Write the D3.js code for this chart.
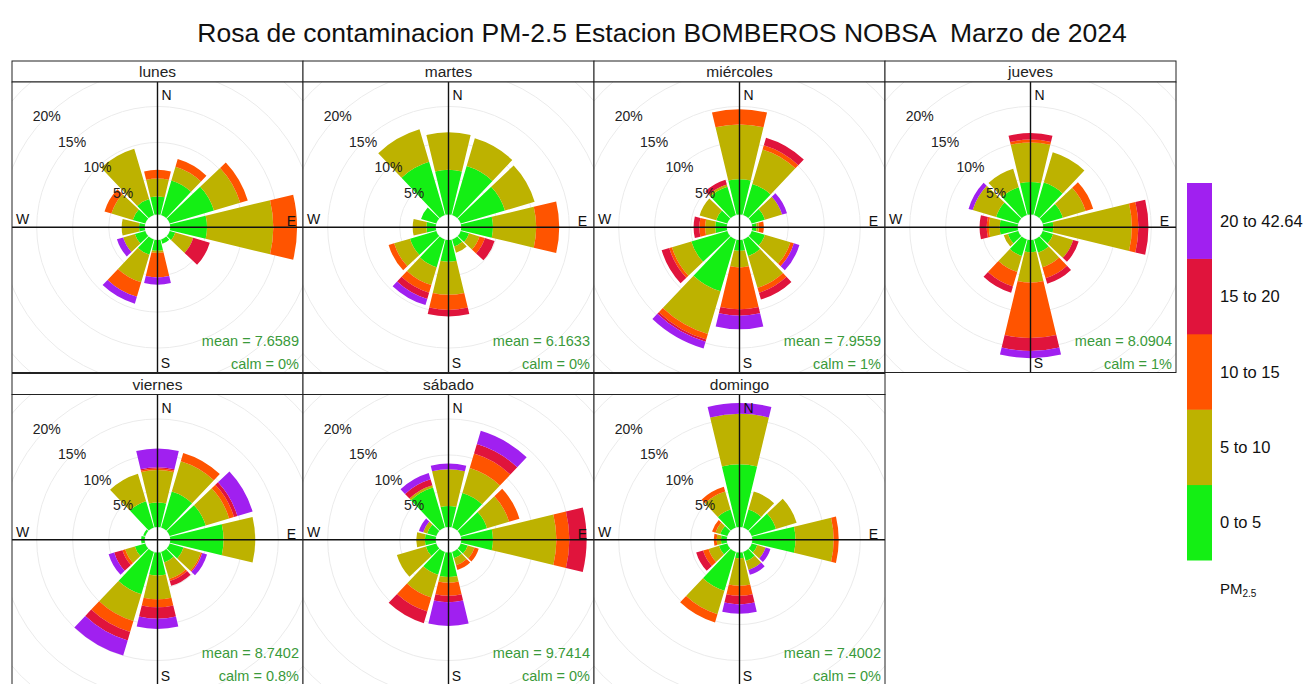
<!DOCTYPE html>
<html>
<head>
<meta charset="utf-8">
<script src="https://cdn.jsdelivr.net/npm/d3@7"></script>
<style>
  body { margin: 0; background: #fff; }
  svg { display: block; font-family: "Liberation Sans", Arial, sans-serif; }
</style>
</head>
<body>
<svg id="chart" width="1313" height="684"></svg>
<script>
// ---- data -------------------------------------------------------------
const title = "Rosa de contaminacion PM-2.5 Estacion BOMBEROS NOBSA  Marzo de 2024";
const days = ["lunes", "martes", "miércoles", "jueves", "viernes", "sábado", "domingo"];
const directions = [0, 30, 60, 90, 120, 150, 180, 210, 240, 270, 300, 330];
const bins = ["0 to 5", "5 to 10", "10 to 15", "15 to 20", "20 to 42.64"];
const binColors = ["#14ef14", "#bdb200", "#ff5400", "#e0143c", "#a020f0"];
const gridTicks = [5, 10, 15, 20];
const means = ["7.6589", "6.1633", "7.9559", "8.0904", "8.7402", "9.7414", "7.4002"];
const calms = ["0%", "0%", "1%", "1%", "0.8%", "0%", "0%"];

// frequency (%) of each wind sector, split by PM2.5 band (rows follow `directions`)
const lunes = [
  [2.5, 2.5, 1.2, 0, 0], [5.0, 2.0, 1.1, 0, 0], [6.4, 3.8, 1.1, 0, 0], [5.1, 9.2, 3.3, 0, 0],
  [0.8, 2.6, 0, 2.4, 0], [0.6, 0, 0, 0, 0], [1.5, 0.3, 3.4, 0, 1.0], [2.2, 4.0, 2.1, 0, 1.0],
  [1.5, 1.7, 0, 0, 0.9], [0.8, 2.4, 0, 0, 0], [1.8, 3.1, 1.0, 0, 0], [2.3, 7.3, 0, 0, 0]
];
const martes = [
  [6.2, 5.2, 0, 0, 0], [7.1, 4.0, 0, 0, 0], [6.4, 4.3, 0, 0, 0], [4.4, 6.0, 3.2, 0, 0],
  [1.2, 1.5, 0.8, 1.4, 0], [1.0, 0.9, 0, 0, 0], [3.0, 4.6, 2.1, 0.9, 0], [4.0, 2.6, 1.1, 0.9, 0.9],
  [3.8, 2.3, 0.8, 0, 0], [1.3, 1.9, 0, 0, 0], [2.2, 0, 0, 0, 0], [7.7, 4.7, 0, 0, 0]
];
const miercoles = [
  [4.9, 7.6, 2.1, 0, 0], [4.5, 5.0, 0.6, 1.1, 0], [1.9, 2.5, 0, 0, 0.7], [0.6, 0.3, 0.7, 0, 0],
  [1.9, 3.7, 0.5, 0, 0.8], [2.4, 4.6, 0.7, 1.0, 0], [1.5, 2.3, 5.8, 0.9, 1.9], [7.5, 6.2, 0.8, 0.3, 1.0],
  [5.2, 2.8, 0.4, 1.1, 0], [1.6, 1.4, 0.8, 0.8, 0], [1.6, 2.4, 0, 0, 0], [4.1, 0.3, 0, 0.7, 0]
];
const jueves = [
  [4.5, 5.5, 0.4, 0.9, 0], [4.7, 4.4, 0, 0, 0], [2.9, 3.3, 1.1, 0, 0], [1.4, 10.9, 0.9, 1.4, 0],
  [1.5, 2.9, 0, 0.8, 0], [1.9, 2.1, 1.6, 0.8, 0], [1.7, 4.2, 7.7, 1.8, 1.0], [2.4, 2.3, 2.1, 0.9, 0],
  [1.5, 0.6, 0, 0, 0], [2.5, 1.5, 0.3, 1.0, 0], [3.2, 3.4, 0, 0, 0.6], [4.0, 2.7, 0, 0, 0]
];
const viernes = [
  [3.4, 4.5, 0.2, 0.2, 2.6], [5.2, 4.4, 1.2, 0, 0], [5.2, 3.4, 0.7, 0.5, 2.2], [7.4, 4.4, 0, 0, 0],
  [2.0, 2.5, 0.2, 0, 0.7], [1.5, 2.4, 0.3, 0.7, 0], [3.2, 3.3, 1.1, 1.6, 1.4], [6.1, 3.9, 1.6, 1.2, 2.2],
  [1.5, 1.4, 0.4, 1.2, 0.8], [0.5, 0, 0, 0, 0], [0.3, 0, 0, 0, 0], [3.8, 4.0, 0, 0, 0]
];
const sabado = [
  [2.9, 5.1, 0, 0, 0.8], [5.0, 3.6, 2.1, 1.4, 1.9], [3.8, 3.2, 1.5, 0, 0], [4.4, 8.8, 1.8, 2.4, 0],
  [1.0, 1.0, 0.6, 0, 0], [0.9, 1.0, 0.7, 0, 0], [3.4, 0.8, 1.8, 0.9, 3.3], [3.3, 3.3, 2.0, 1.7, 0],
  [1.5, 4.2, 0, 0, 0], [1.5, 1.2, 0, 0, 0], [1.3, 0.6, 0, 0, 0.6], [5.8, 0.3, 0, 0.9, 0.9]
];
const domingo = [
  [8.7, 7.0, 0, 0, 1.5], [2.6, 2.6, 0, 0, 0], [3.5, 3.0, 0, 0, 0], [6.0, 5.3, 0.7, 0, 0],
  [0.8, 1.2, 0, 0, 0.7], [1.3, 1.3, 0, 0, 0.7], [0.8, 3.8, 1.4, 1.2, 1.3], [5.6, 3.4, 1.2, 0, 0],
  [1.2, 1.5, 0.8, 1.0, 0], [0.8, 0.6, 0.4, 0, 0], [1.0, 0.7, 0.5, 0, 0], [2.6, 2.6, 0.7, 0, 0]
];
const roses = [lunes, martes, miercoles, jueves, viernes, sabado, domingo];

// ---- layout -----------------------------------------------------------
const svg = d3.select("#chart");
const nCols = 4;
const colScale = d3.scaleBand().domain(d3.range(nCols)).range([12, 1176]);
const panelW = colScale.bandwidth();
const stripH = 21, plotH = 290.5;
const rowScale = d3.scaleLinear().domain([0, 1]).range([61, 373.5]);

// radius: an inner hole, then a linear % scale
const rScale = d3.scaleLinear().domain([0, 40]).range([12.8, 12.8 + 40 * 7.2]);
const angle = d3.scaleLinear().domain([0, 360]).range([0, 2 * Math.PI]);
const segHalf = 13.5; // 90% of a 30 degree sector
const arc = d3.arc();
const color = d3.scaleOrdinal().domain(bins).range(binColors);

svg.append("text")
  .attr("x", 662).attr("y", 42)
  .attr("text-anchor", "middle")
  .attr("font-size", 26.5)
  .attr("fill", "#111")
  .style("white-space", "pre")
  .text(title);

const defs = svg.append("defs");

days.forEach((day, i) => {
  const col = i % nCols, row = Math.floor(i / nCols);
  const x0 = colScale(col), y0 = rowScale(row);
  const py = y0 + stripH;
  const cx = x0 + panelW / 2, cy = py + plotH / 2;

  const g = svg.append("g");

  // strip
  g.append("rect").attr("x", x0).attr("y", y0).attr("width", panelW).attr("height", stripH)
    .attr("fill", "#fff").attr("stroke", "#222").attr("stroke-width", 1);
  g.append("text").attr("x", cx).attr("y", y0 + stripH / 2 + 5.5)
    .attr("text-anchor", "middle").attr("font-size", 15.5).attr("fill", "#222").text(day);

  // plot region
  const clipId = "clip" + i;
  defs.append("clipPath").attr("id", clipId)
    .append("rect").attr("x", x0).attr("y", py).attr("width", panelW).attr("height", plotH);
  g.append("rect").attr("x", x0).attr("y", py).attr("width", panelW).attr("height", plotH)
    .attr("fill", "#fff");

  const inner = g.append("g").attr("clip-path", `url(#${clipId})`);
  const centre = inner.append("g").attr("transform", `translate(${cx},${cy})`);

  // grid circles
  centre.selectAll("circle.grid")
    .data(d3.range(0, 40, 5))
    .join("circle")
    .attr("r", d => rScale(d))
    .attr("fill", "none").attr("stroke", "#ebebeb").attr("stroke-width", 1);

  // stacked wedges
  const rose = roses[i];
  const segs = [];
  rose.forEach((vals, di) => {
    let cum = 0;
    vals.forEach((v, bi) => {
      if (v > 0) segs.push({ dir: directions[di], bin: bins[bi], from: cum, to: cum + v });
      cum += v;
    });
  });
  centre.selectAll("path.seg")
    .data(segs)
    .join("path")
    .attr("d", d => arc({
      innerRadius: rScale(d.from), outerRadius: rScale(d.to),
      startAngle: angle(d.dir - segHalf), endAngle: angle(d.dir + segHalf)
    }))
    .attr("fill", d => color(d.bin));

  // axes
  centre.append("line").attr("x1", 0).attr("x2", 0).attr("y1", -plotH / 2).attr("y2", plotH / 2)
    .attr("stroke", "#111").attr("stroke-width", 1.4);
  centre.append("line").attr("x1", -panelW / 2).attr("x2", panelW / 2).attr("y1", 0).attr("y2", 0)
    .attr("stroke", "#111").attr("stroke-width", 1.4);

  // compass letters
  const compass = [
    { t: "N", x: 9, y: -132 }, { t: "S", x: 8, y: 136 },
    { t: "E", x: 134, y: -6 }, { t: "W", x: -135, y: -8 }
  ];
  centre.selectAll("text.cmp").data(compass).join("text")
    .attr("x", d => d.x).attr("y", d => d.y + 5)
    .attr("text-anchor", "middle").attr("font-size", 14).attr("fill", "#111")
    .text(d => d.t);

  // percentage labels along the NW diagonal
  const a = angle(315);
  centre.selectAll("text.pct").data(gridTicks).join("text")
    .attr("x", d => rScale(d) * Math.sin(a))
    .attr("y", d => -rScale(d) * Math.cos(a) + 5)
    .attr("text-anchor", "middle").attr("font-size", 14).attr("fill", "#222")
    .text(d => d + "%");

  // statistics
  g.append("text").attr("x", x0 + panelW - 4).attr("y", py + plotH - 27)
    .attr("text-anchor", "end").attr("font-size", 14.5).attr("fill", "#3a9a3a")
    .text("mean = " + means[i]);
  g.append("text").attr("x", x0 + panelW - 4).attr("y", py + plotH - 4)
    .attr("text-anchor", "end").attr("font-size", 14.5).attr("fill", "#3a9a3a")
    .text("calm = " + calms[i]);

  g.append("rect").attr("x", x0).attr("y", py).attr("width", panelW).attr("height", plotH)
    .attr("fill", "none").attr("stroke", "#222").attr("stroke-width", 1);
});

// ---- legend -----------------------------------------------------------
const legendY = d3.scaleBand().domain(bins.slice().reverse()).range([183, 560]);
const legend = svg.append("g");
legend.selectAll("rect").data(bins).join("rect")
  .attr("x", 1187).attr("y", d => legendY(d))
  .attr("width", 25).attr("height", legendY.bandwidth() + 0.5)
  .attr("fill", d => color(d));
legend.selectAll("text").data(bins).join("text")
  .attr("x", 1220).attr("y", d => legendY(d) + legendY.bandwidth() / 2 + 6)
  .attr("font-size", 16.5).attr("fill", "#111")
  .text(d => d);
const pm = legend.append("text").attr("x", 1220).attr("y", 594).attr("font-size", 15).attr("fill", "#111");
pm.append("tspan").text("PM");
pm.append("tspan").attr("font-size", 10).attr("dy", 3).text("2.5");
</script>
</body>
</html>
